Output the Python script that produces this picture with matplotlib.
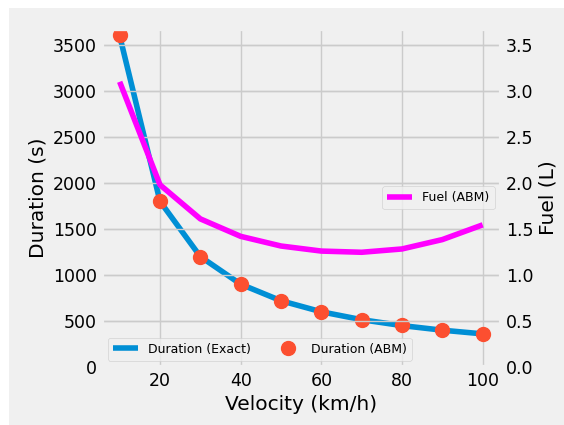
import matplotlib
matplotlib.use("Agg")
import matplotlib.pyplot as plt
from matplotlib.patches import Rectangle

plt.style.use("fivethirtyeight")

velocity = [10, 20, 30, 40, 50, 60, 70, 80, 90, 100]
duration_exact = [3600, 1800, 1200, 900, 720, 600, 514, 450, 400, 360]
duration_abm = [3610, 1800, 1200, 900, 720, 600, 515, 452, 400, 362]
fuel_abm = [3.10, 1.98, 1.61, 1.42, 1.315, 1.26, 1.247, 1.283, 1.385, 1.545]

fig = plt.figure(figsize=(5.64, 4.25), dpi=100, facecolor="white")
# grey panel, white strip on the left/top edges like the reference
fig.patches.append(Rectangle((9 / 564, 0), 1 - 9 / 564, 1 - 8 / 425,
                             transform=fig.transFigure, facecolor="#f0f0f0",
                             edgecolor="none", zorder=-10))

ax = fig.add_axes([0.18, 0.1365, 0.708, 0.7955])
ax.set_facecolor("#f0f0f0")
ax.plot(velocity, duration_exact, color="#008fd5", lw=4, label="Duration (Exact)")
ax.plot(velocity, duration_abm, "o", color="#fc4f30", ms=10, label="Duration (ABM)")
ax.set_xlim(5.5, 104.5)
ax.set_ylim(0, 3675)
ax.set_xticks([20, 40, 60, 80, 100])
ax.set_yticks(range(0, 3501, 500))
ax.tick_params(labelsize=12.5)
ax.set_xlabel("Velocity (km/h)", fontsize=14.5)
ax.set_ylabel("Duration (s)", fontsize=14.5)
ax.legend(loc="lower left", ncol=2, fontsize=9)

ax2 = ax.twinx()
ax2.plot(velocity, fuel_abm, color="#ff00ff", lw=4, label="Fuel (ABM)")
ax2.set_ylim(0, 3.675)
ax2.set_yticks([0.0, 0.5, 1.0, 1.5, 2.0, 2.5, 3.0, 3.5])
ax2.tick_params(labelsize=12.5)
ax2.set_ylabel("Fuel (L)", fontsize=14.5)
ax2.legend(loc="center right", fontsize=9)

fig.savefig("out.png", dpi=100, facecolor="white")
